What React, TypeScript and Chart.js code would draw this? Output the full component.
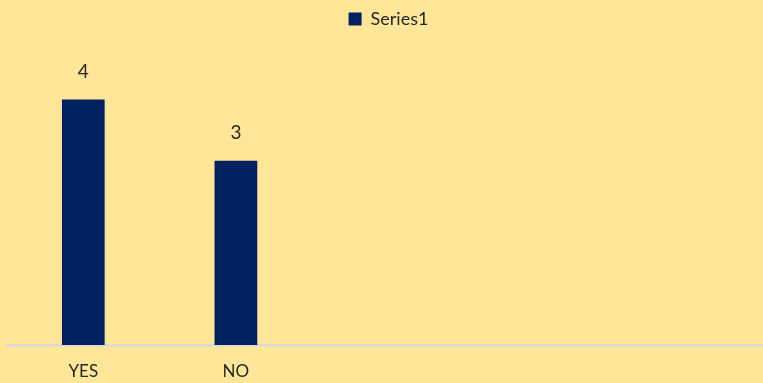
import React, { useEffect, useRef } from "react";
import { Chart, registerables } from "chart.js";

Chart.register(...registerables);

const categories = ["YES", "NO", "", "", ""];
const series1 = [4, 3, null, null, null];
const seriesName = "Series1";

const FONT = "Lato, 'Open Sans', sans-serif";

const valueLabels = {
  id: "valueLabels",
  afterDatasetsDraw(chart: any) {
    const ctx = chart.ctx;
    ctx.save();
    ctx.font = `19px ${FONT}`;
    ctx.fillStyle = "#262626";
    ctx.textAlign = "center";
    ctx.textBaseline = "middle";
    chart.data.datasets.forEach((ds: any, di: number) => {
      const meta = chart.getDatasetMeta(di);
      meta.data.forEach((el: any, i: number) => {
        const v = ds.data[i];
        if (v === null || v === undefined) return;
        ctx.fillText(String(v), el.x, el.y - 28);
      });
    });
    ctx.restore();
  },
};

export default function App() {
  const ref = useRef<HTMLCanvasElement>(null);
  useEffect(() => {
    document.body.style.margin = "0";
    const chart = new Chart(ref.current!, {
      type: "bar",
      data: {
        labels: categories,
        datasets: [
          {
            label: seriesName,
            data: series1,
            backgroundColor: "#002060",
            barPercentage: 0.56,
            categoryPercentage: 0.5,
          },
        ],
      },
      options: {
        animation: false,
        responsive: false,
        layout: { padding: { left: 7, right: 0, top: 0, bottom: 0 } },
        plugins: {
          legend: {
            position: "top",
            labels: {
              boxWidth: 13,
              boxHeight: 13,
              padding: 10,
              color: "#262626",
              font: { family: FONT, size: 18 },
            },
          },
          tooltip: { enabled: false },
        },
        scales: {
          x: {
            grid: { display: false, drawTicks: false },
            border: { display: true, color: "#D9D9D9", width: 2.5 },
            ticks: {
              color: "#262626",
              padding: 16,
              font: { family: FONT, size: 17 },
              maxRotation: 0,
              autoSkip: false,
            },
            afterFit: (scale: any) => {
              scale.height = 38;
            },
          },
          y: { display: false, min: 0, max: 5 },
        },
      },
      plugins: [valueLabels],
    });
    return () => chart.destroy();
  }, []);
  return (
    <div style={{ width: 763, height: 383, background: "#FFE699", overflow: "hidden" }}>
      <canvas ref={ref} width={770} height={383} style={{ display: "block" }} />
    </div>
  );
}
